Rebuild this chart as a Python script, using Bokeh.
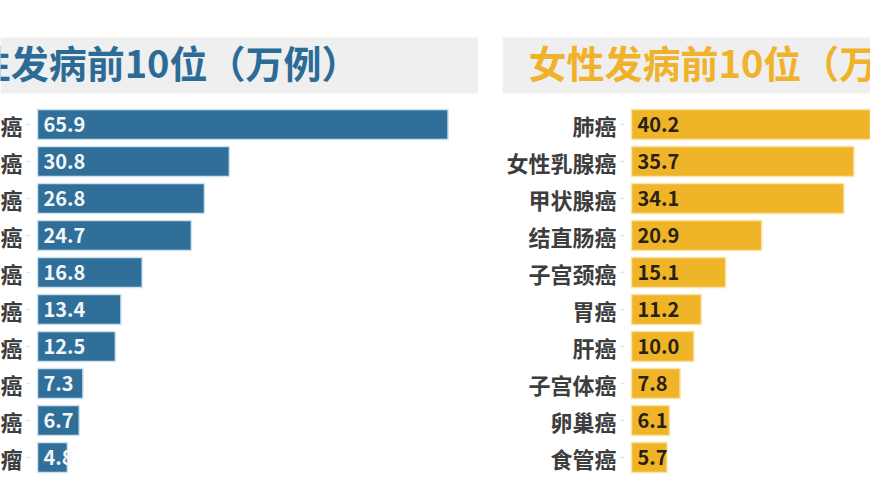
from bokeh.plotting import figure
from bokeh.layouts import row
from bokeh.models import Range1d, ColumnDataSource, BoxAnnotation, Spacer
from bokeh.core.properties import value
from bokeh.embed import file_html
from bokeh.resources import INLINE

# ---- data ----
male_categories = ["肺癌", "结直肠癌", "肝癌", "胃癌", "食管癌",
                   "前列腺癌", "甲状腺癌", "膀胱癌", "胰腺癌", "淋巴瘤"]
male_values = [65.9, 30.8, 26.8, 24.7, 16.8, 13.4, 12.5, 7.3, 6.7, 4.8]
female_categories = ["肺癌", "女性乳腺癌", "甲状腺癌", "结直肠癌", "子宫颈癌",
                     "胃癌", "肝癌", "子宫体癌", "卵巢癌", "食管癌"]
female_values = [40.2, 35.7, 34.1, 20.9, 15.1, 11.2, 10.0, 7.8, 6.1, 5.7]
male_title = "男性发病前10位（万例）"
female_title = "女性发病前10位（万例）"

# ---- layout constants (pixels) ----
FONT = value("Noto Sans CJK SC")
H = 492
ROW_PX = 37.0          # distance between bar centres
FIRST_PX = 124.0       # canvas y of first bar centre
KX = 6.23              # pixels per 1 万例
BAND_TOP, BAND_BOT = 37.0, 93.0
TITLE_Y = 60.5


def panel(cats, vals, width, bar_left_px, title, title_px, title_align,
          bar_color, edge_color, value_color, title_color):
    x0 = -bar_left_px / KX
    y_top = -FIRST_PX / ROW_PX
    p = figure(width=width, height=H,
               x_range=Range1d(x0, x0 + width / KX),
               y_range=Range1d(y_top + H / ROW_PX, y_top),
               output_backend="svg", toolbar_location=None,
               x_axis_location=None, y_axis_location=None,
               min_border=0, outline_line_color=None,
               background_fill_color="white", border_fill_color="white")
    p.grid.visible = False

    p.add_layout(BoxAnnotation(top=y_top + BAND_TOP / ROW_PX,
                               bottom=y_top + BAND_BOT / ROW_PX,
                               fill_color="#efefef", fill_alpha=1.0,
                               line_color=None, level="underlay"))
    p.text(x=[x0 + title_px / KX], y=[y_top + TITLE_Y / ROW_PX], text=[title],
           text_align=title_align, text_baseline="middle",
           text_font=FONT, text_font_style="bold", text_font_size="38px",
           text_color=title_color)

    src = ColumnDataSource(dict(
        idx=list(range(len(cats))), val=vals, cat=cats,
        lbl=[f"{v:.1f}" for v in vals]))
    # faint category tick marks
    p.segment(x0=-11 / KX, x1=-7 / KX, y0="idx", y1="idx", source=src,
              line_color="#e2e2e2", line_width=1.5)
    p.hbar(y="idx", left=0, right="val", height=0.81, source=src,
           fill_color=bar_color, line_color=edge_color, line_width=1.5)
    p.text(x=0, y="idx", text="lbl", source=src, x_offset=6,
           text_align="left", text_baseline="middle",
           text_font=FONT, text_font_style="bold", text_font_size="20px",
           text_color=value_color)
    p.text(x=0, y="idx", text="cat", source=src, x_offset=-15,
           text_align="right", text_baseline="middle",
           text_font=FONT, text_font_style="bold", text_font_size="22px",
           text_color="#3d3d3d")
    return p


left = panel(male_categories, male_values, 478, 37.0, male_title, 359.0,
             "right", "#2f6f99", "#cfe3ee", "#f4f7fa", "#2d6b97")
right = panel(female_categories, female_values, 368, 129.0, female_title, 26.0,
              "left", "#efb428", "#f9e3a6", "#2a1f10", "#efb22a")

layout = row(left, Spacer(width=24, height=H), right)
open("out.html", "w").write(file_html(layout, INLINE))
